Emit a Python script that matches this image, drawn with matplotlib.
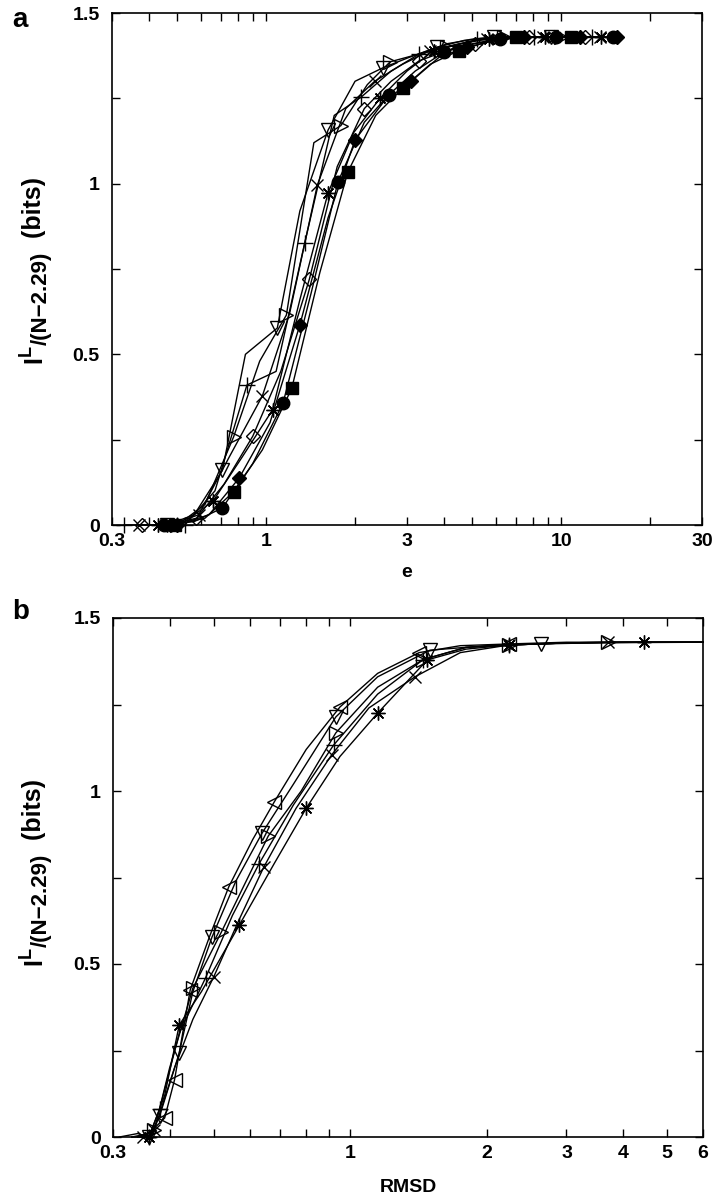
import matplotlib
matplotlib.use("Agg")
import matplotlib.pyplot as plt
from matplotlib.ticker import FixedLocator, NullFormatter

plt.rcParams['font.family'] = ['Liberation Sans', 'DejaVu Sans']
plt.rcParams['font.weight'] = 'bold'

# ---------------- Panel a data (x = e, y = information in bits) ----------------
a_tri_down_x = [0.46, 0.57, 0.71, 0.85, 1.09, 1.30, 1.62, 2.00, 2.48, 3.05, 3.80, 4.70, 5.90, 7.30, 9.20, 11.5]
a_tri_down_y = [0.0, 0.03, 0.16, 0.50, 0.577, 0.92, 1.157, 1.30, 1.339, 1.37, 1.40, 1.42, 1.43, 1.43, 1.43, 1.43]
a_tri_right_x = [0.50, 0.62, 0.775, 0.95, 1.17, 1.45, 1.79, 2.20, 2.63, 3.30, 4.10, 5.10, 6.40, 8.00, 10.0]
a_tri_right_y = [0.0, 0.06, 0.258, 0.48, 0.615, 1.12, 1.17, 1.29, 1.357, 1.38, 1.40, 1.42, 1.43, 1.43, 1.43]
a_plus_x = [0.33, 0.42, 0.53, 0.67, 0.86, 1.08, 1.35, 1.70, 2.10, 2.65, 3.30, 4.10, 5.20, 6.50, 8.10, 10.2, 12.7]
a_plus_y = [0.0, 0.0, 0.0, 0.10, 0.41, 0.45, 0.826, 1.20, 1.254, 1.33, 1.38, 1.41, 1.425, 1.43, 1.43, 1.43, 1.43]
a_cross_x = [0.37, 0.47, 0.59, 0.75, 0.97, 1.20, 1.49, 1.86, 2.33, 2.90, 3.60, 4.50, 5.60, 7.00, 8.70, 10.8, 13.5]
a_cross_y = [0.0, 0.0, 0.03, 0.20, 0.378, 0.62, 0.996, 1.22, 1.30, 1.35, 1.39, 1.41, 1.425, 1.43, 1.43, 1.43, 1.43]
a_star_x = [0.43, 0.53, 0.66, 0.83, 1.05, 1.30, 1.62, 1.98, 2.43, 3.00, 3.70, 4.60, 5.70, 7.10, 8.80, 11.0, 13.6]
a_star_y = [0.0, 0.01, 0.07, 0.20, 0.337, 0.66, 0.973, 1.15, 1.25, 1.33, 1.39, 1.41, 1.425, 1.43, 1.43, 1.43, 1.43]
a_circle_x = [0.45, 0.57, 0.71, 0.90, 1.14, 1.42, 1.75, 2.15, 2.60, 3.20, 4.00, 5.00, 6.20, 7.70, 9.60, 12.0, 15.0]
a_circle_y = [0.0, 0.01, 0.05, 0.18, 0.357, 0.68, 1.005, 1.18, 1.26, 1.33, 1.385, 1.41, 1.425, 1.43, 1.43, 1.43, 1.43]
a_square_x = [0.49, 0.62, 0.775, 0.97, 1.22, 1.52, 1.89, 2.35, 2.90, 3.60, 4.50, 5.60, 7.00, 8.70, 10.8]
a_square_y = [0.0, 0.02, 0.097, 0.22, 0.40, 0.74, 1.034, 1.20, 1.28, 1.35, 1.39, 1.415, 1.43, 1.43, 1.43]
a_diamond_x = [0.50, 0.64, 0.81, 1.03, 1.30, 1.62, 2.00, 2.50, 3.10, 3.85, 4.80, 6.00, 7.50, 9.30, 11.6, 13.5, 15.4]
a_diamond_y = [0.0, 0.03, 0.138, 0.30, 0.586, 0.90, 1.128, 1.24, 1.30, 1.37, 1.40, 1.42, 1.43, 1.43, 1.43, 1.43, 1.43]
a_odiamond_x = [0.38, 0.47, 0.58, 0.72, 0.90, 1.12, 1.40, 1.74, 2.15, 2.65, 3.30, 4.10, 5.10, 6.30, 7.80, 9.70, 12.0]
a_odiamond_y = [0.0, 0.0, 0.02, 0.12, 0.26, 0.45, 0.72, 1.05, 1.22, 1.30, 1.36, 1.39, 1.41, 1.425, 1.43, 1.43, 1.43]

# ---------------- Panel b data (x = RMSD) ----------------
b_tri_left_x = [0.33, 0.36, 0.39, 0.41, 0.444, 0.49, 0.54, 0.61, 0.68, 0.80, 0.95, 1.15, 1.42, 1.75, 2.24, 3.0, 4.0, 6.0]
b_tri_left_y = [0.0, 0.01, 0.055, 0.165, 0.425, 0.58, 0.723, 0.86, 0.968, 1.12, 1.243, 1.34, 1.40, 1.42, 1.425, 1.43, 1.43, 1.43]
b_tri_left_m = [2, 3, 4, 6, 8, 10, 12, 14]
b_tri_down_x = [0.34, 0.36, 0.38, 0.42, 0.45, 0.496, 0.56, 0.64, 0.75, 0.93, 1.15, 1.50, 2.00, 2.63, 4.0, 6.0]
b_tri_down_y = [0.0, 0.0, 0.06, 0.243, 0.42, 0.578, 0.74, 0.879, 1.02, 1.214, 1.33, 1.407, 1.42, 1.425, 1.43, 1.43]
b_tri_down_m = [1, 2, 3, 5, 7, 9, 11, 13]
b_tri_right_x = [0.34, 0.37, 0.40, 0.45, 0.52, 0.58, 0.66, 0.78, 0.93, 1.15, 1.45, 1.80, 2.24, 3.0, 3.7, 6.0]
b_tri_right_y = [0.0, 0.02, 0.20, 0.43, 0.592, 0.72, 0.87, 1.0, 1.168, 1.30, 1.38, 1.415, 1.422, 1.428, 1.43, 1.43]
b_tri_right_m = [1, 3, 4, 6, 8, 10, 12, 14]
b_plus_x = [0.35, 0.36, 0.38, 0.42, 0.48, 0.55, 0.63, 0.75, 0.92, 1.15, 1.45, 1.80, 2.24, 3.0, 6.0]
b_plus_y = [0.0, 0.0, 0.08, 0.30, 0.46, 0.64, 0.79, 0.96, 1.133, 1.28, 1.38, 1.415, 1.422, 1.428, 1.43]
b_plus_m = [1, 2, 4, 6, 8, 10, 12]
b_cross_x = [0.33, 0.35, 0.37, 0.41, 0.45, 0.50, 0.57, 0.645, 0.76, 0.91, 1.10, 1.39, 1.75, 2.24, 3.0, 3.7, 6.0]
b_cross_y = [0.0, 0.0, 0.02, 0.20, 0.34, 0.462, 0.63, 0.78, 0.95, 1.104, 1.24, 1.33, 1.40, 1.422, 1.428, 1.43, 1.43]
b_cross_m = [1, 2, 5, 7, 9, 11, 13, 15]
b_star_x = [0.31, 0.34, 0.36, 0.39, 0.42, 0.47, 0.57, 0.68, 0.80, 0.95, 1.15, 1.48, 1.80, 2.24, 3.0, 4.45, 6.0]
b_star_y = [0.0, 0.01, 0.0, 0.12, 0.324, 0.42, 0.613, 0.79, 0.95, 1.10, 1.225, 1.379, 1.41, 1.422, 1.428, 1.43, 1.43]
b_star_m = [2, 4, 6, 8, 10, 11, 13, 15]

a_xticks = [0.3, 1, 3, 10, 30]
a_xticklabels = ['0.3', '1', '3', '10', '30']
b_xticks = [0.3, 1, 2, 3, 4, 5, 6]
b_xticklabels = ['0.3', '1', '2', '3', '4', '5', '6']
yticks = [0, 0.5, 1, 1.5]
yticklabels = ['0', '0.5', '1', '1.5']
yminor = [0.25, 0.75, 1.25]

# y-label pieces: (text, fontsize, perpendicular offset in px; negative = raised)
ylabel_pieces = [('I', 18, 0), ('L', 13, -10), ('/(N\u22122.29)', 16, 6), ('  (bits)', 18, 0)]

ASTER = (8, 2, 0)
W, H = 718, 1199

fig = plt.figure(figsize=(W / 100, H / 100), dpi=100)
axa = fig.add_axes([112 / W, 1 - 525 / H, 590 / W, 512 / H])
axb = fig.add_axes([113 / W, 1 - 1137 / H, 590 / W, 519 / H])

lw = 1.0
def curve(ax, x, y, marker, ms, filled, every):
    ax.plot(x, y, color='black', lw=lw, marker=marker, ms=ms, markevery=every,
            mfc='black' if filled else 'none', mec='black', mew=1.0, clip_on=False)

# panel a
curve(axa, a_odiamond_x, a_odiamond_y, 'D', 7, False, 2)
curve(axa, a_tri_down_x, a_tri_down_y, 'v', 10, False, 2)
curve(axa, a_tri_right_x, a_tri_right_y, '>', 10, False, 2)
curve(axa, a_plus_x, a_plus_y, '+', 11, False, 2)
curve(axa, a_cross_x, a_cross_y, 'x', 8, False, 2)
curve(axa, a_star_x, a_star_y, ASTER, 10, False, 2)
curve(axa, a_circle_x, a_circle_y, 'o', 9, True, 2)
curve(axa, a_square_x, a_square_y, 's', 8, True, 2)
curve(axa, a_diamond_x, a_diamond_y, 'D', 7, True, 2)

# panel b
curve(axb, b_tri_left_x, b_tri_left_y, '<', 10, False, b_tri_left_m)
curve(axb, b_tri_down_x, b_tri_down_y, 'v', 10, False, b_tri_down_m)
curve(axb, b_tri_right_x, b_tri_right_y, '>', 10, False, b_tri_right_m)
curve(axb, b_plus_x, b_plus_y, '+', 11, False, b_plus_m)
curve(axb, b_cross_x, b_cross_y, 'x', 8, False, b_cross_m)
curve(axb, b_star_x, b_star_y, ASTER, 10, False, b_star_m)

for ax, xt, xtl, xmax, xl, lp in [(axa, a_xticks, a_xticklabels, 30, 'e', 10),
                                  (axb, b_xticks, b_xticklabels, 6, 'RMSD', 12)]:
    ax.set_xscale('log')
    ax.set_xlim(0.3, xmax)
    ax.set_ylim(0, 1.5)
    ax.xaxis.set_major_locator(FixedLocator(xt))
    ax.set_xticklabels(xtl)
    ax.xaxis.set_minor_formatter(NullFormatter())
    ax.yaxis.set_major_locator(FixedLocator(yticks))
    ax.set_yticklabels(yticklabels)
    ax.yaxis.set_minor_locator(FixedLocator(yminor))
    ax.tick_params(which='both', direction='in', top=True, right=True,
                   length=6, width=1.0, labelsize=14)
    ax.tick_params(axis='x', pad=6)
    ax.tick_params(axis='y', pad=9)
    for s in ax.spines.values():
        s.set_linewidth(1.2)
    ax.set_xlabel(xl, fontsize=14, fontweight='bold', labelpad=lp)
    for lab in ax.get_xticklabels() + ax.get_yticklabels():
        lab.set_fontweight('bold')

axa.xaxis.set_minor_locator(FixedLocator([0.4, 0.5, 0.6, 0.7, 0.8, 0.9, 2, 4, 5, 6, 7, 8, 9, 20]))
axb.xaxis.set_minor_locator(FixedLocator([0.4, 0.5, 0.6, 0.7, 0.8, 0.9]))

renderer = fig.canvas.get_renderer()
def vlabel(x_px, yc_px):
    items = []
    for s, size, off in ylabel_pieces:
        t = fig.text(0, 0, s, fontsize=size, fontweight='bold', rotation=90,
                     rotation_mode='anchor', ha='left', va='baseline')
        items.append((t, off, t.get_window_extent(renderer).height))
    total = sum(h for _, _, h in items)
    y = yc_px + total / 2
    for t, off, h in items:
        t.set_position(((x_px + off) / W, 1 - y / H))
        y -= h

vlabel(41, 270)
vlabel(41, 872)

fig.text(12 / W, 1 - 20 / H, 'a', fontsize=20, fontweight='bold', va='center', ha='left')
fig.text(12 / W, 1 - 612 / H, 'b', fontsize=20, fontweight='bold', va='center', ha='left')

fig.savefig('out.png', dpi=100)
